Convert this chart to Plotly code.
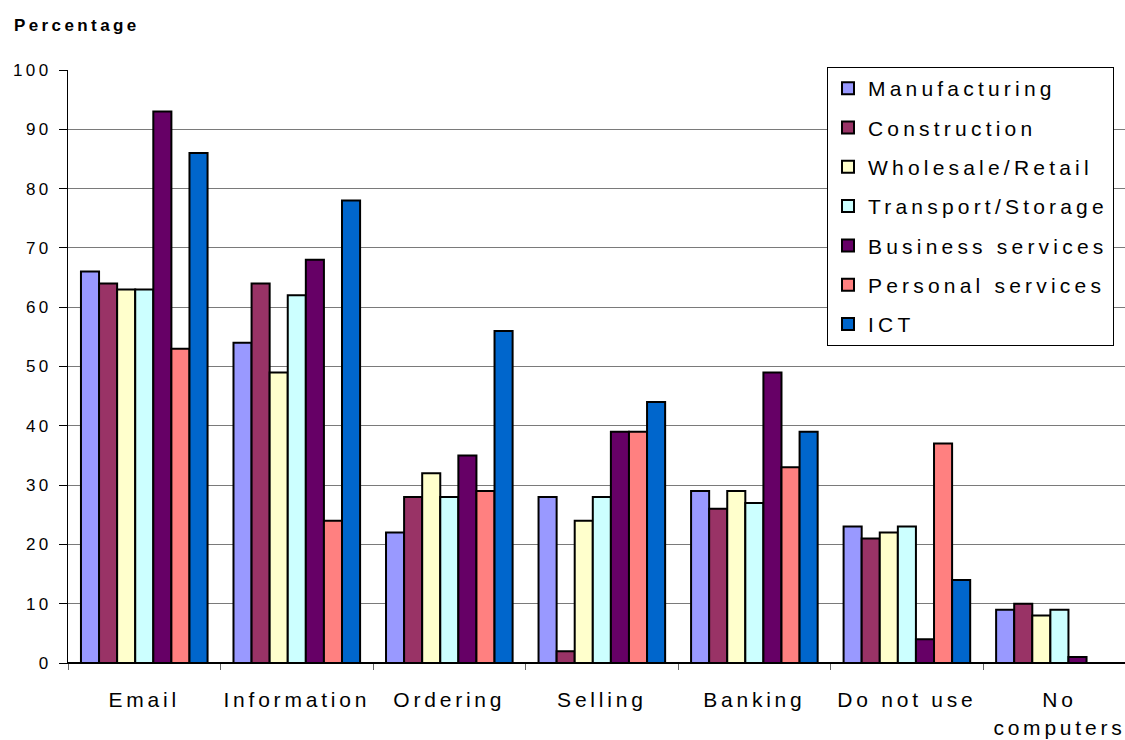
import plotly.graph_objects as go

categories = ["Email", "Information", "Ordering", "Selling", "Banking", "Do not use", "No<br>computers"]
manufacturing = [66, 54, 22, 28, 29, 23, 9]
construction = [64, 64, 28, 2, 26, 21, 10]
wholesale = [63, 49, 32, 24, 29, 22, 8]
transport = [63, 62, 28, 28, 27, 23, 9]
business = [93, 68, 35, 39, 49, 4, 1]
personal = [53, 24, 29, 39, 33, 37, None]
ict = [86, 78, 56, 44, 39, 14, None]

series_names = ["Manufacturing", "Construction", "Wholesale/Retail", "Transport/Storage",
                "Business services", "Personal services", "ICT"]
series_values = [manufacturing, construction, wholesale, transport, business, personal, ict]
series_colors = ["#9999FF", "#993366", "#FFFFCC", "#CCFFFF", "#660066", "#FF8080", "#0066CC"]

FONT = "Liberation Sans, Arial, sans-serif"

fig = go.Figure()
for name, vals, col in zip(series_names, series_values, series_colors):
    fig.add_trace(go.Bar(
        x=categories, y=vals, name=name, legendgroup=name,
        marker=dict(color=col, line=dict(color="black", width=2)),
    ))

fig.update_layout(
    width=1125, height=740,
    margin=dict(l=68, r=0, t=70, b=77),
    paper_bgcolor="white", plot_bgcolor="white",
    barmode="group", bargap=0.17, bargroupgap=0,
    font=dict(family=FONT, color="#000000"),
    title=dict(text="<b>Percentage</b>", xref="container", yref="container",
               x=14/1125, y=1-25/740, xanchor="left", yanchor="middle",
               font=dict(size=17, family=FONT, color="#000000")),
    legend=dict(
        x=(827-68)/1057, y=1.005, xanchor="left", yanchor="top",
        bgcolor="white", bordercolor="black", borderwidth=1,
        font=dict(size=21, family=FONT, color="#000000"),
        itemwidth=30, tracegroupgap=9, traceorder="grouped",
    ),
    showlegend=True,
)
fig.update_xaxes(
    type="category", range=[-0.5, 6.43],
    tickson="boundaries", ticks="outside", ticklen=6, tickcolor="#666666",
    ticklabelstandoff=18,
    showline=True, linecolor="black", linewidth=1,
    showgrid=False,
    tickfont=dict(size=21, family=FONT, color="#000000"),
)
fig.update_yaxes(
    range=[0, 100], dtick=10, tick0=0,
    ticks="outside", ticklen=8, tickcolor="black",
    ticklabelstandoff=4,
    showline=True, linecolor="black", linewidth=1,
    showgrid=True, gridcolor="#7a7a7a", gridwidth=1,
    zeroline=True, zerolinecolor="black",
    tickfont=dict(size=17, family=FONT, color="#000000"),
)

post = """
var st = document.createElement('style');
st.textContent = '.gtitle{letter-spacing:0.2em} .legendtext{letter-spacing:0.2em} .xtick text{letter-spacing:0.18em} .ytick text{letter-spacing:0.2em}';
document.head.appendChild(st);
var gd = document.getElementById('{plot_id}');
Plotly.relayout(gd, {'title.font.color':'#010101','legend.font.color':'#010101','xaxis.tickfont.color':'#010101','yaxis.tickfont.color':'#010101'});
"""

fig.write_html("out.html", post_script=post)
